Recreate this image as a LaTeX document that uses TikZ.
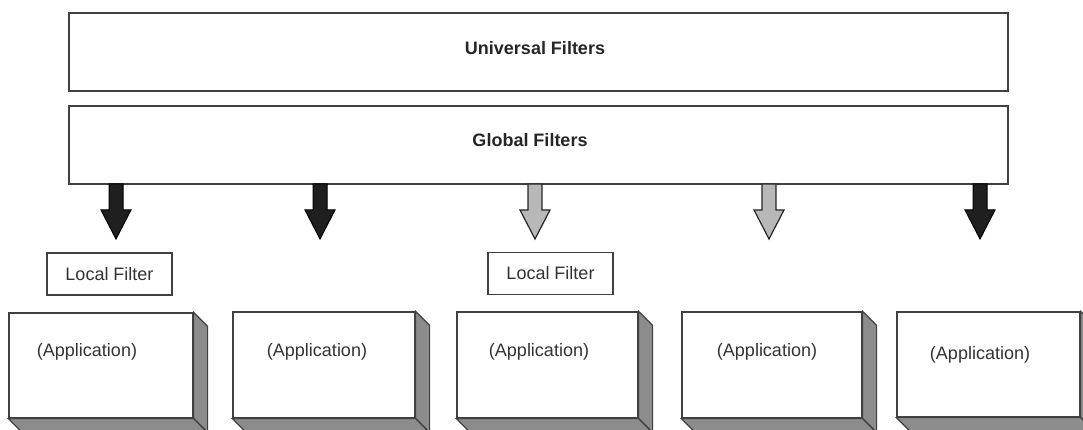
\documentclass[tikz,border=0pt]{standalone}
\usepackage{fontspec}
\setmainfont{Liberation Sans}
\begin{document}
\begin{tikzpicture}[x=1pt,y=-1pt,
  outl/.style={draw=black!75,line width=1.2pt},
  bar/.style={outl,fill=white,inner sep=0pt,font=\fontsize{18}{20}\selectfont\bfseries},
  lfbox/.style={outl,fill=white,inner sep=0pt,minimum width=125pt,minimum height=42pt,font=\fontsize{18}{20}\selectfont\color{black!80}},
  appbox/.style={outl,fill=white,inner sep=0pt,minimum height=105pt},
  side/.style={outl,fill=black!45},
  apptext/.style={font=\fontsize{18}{20}\selectfont\color{black!80},inner sep=0pt},
  darrow/.style={draw=black,line width=1pt,fill=black!88},
  larrow/.style={draw=black!85,line width=1.2pt,fill=black!28}
]
\path[use as bounding box,clip] (0,0) rectangle (1083,430);

% top bars
\node[bar,minimum width=939pt,minimum height=78pt] (univ) at (538.5,52) {};
\node at (535,48) {\fontsize{18}{20}\selectfont\bfseries\color{black!85}Universal Filters};
\node[bar,minimum width=939pt,minimum height=78pt] (glob) at (538.5,145) {};
\node at (530,140) {\fontsize{18}{20}\selectfont\bfseries\color{black!85}Global Filters};

% block arrows
\foreach \n/\cx/\st in {a1/116/darrow,a2/320/darrow,a3/535/larrow,a4/769/larrow,a5/980/darrow}{
  \coordinate (\n) at (\cx,184);
  \draw[\st] (\n) ++(-7,0) -- ++(0,26) -- ++(-8,0) -- ++(15,29) -- ++(15,-29) -- ++(-8,0) -- ++(0,-26) -- cycle;
}

% local filters
\node[lfbox] (lf1) at (109.5,274) {Local Filter};
\node[lfbox] (lf2) at (550.5,273.5) {Local Filter};

% application boxes
\foreach \n/\l/\r/\t/\b/\tx/\ty in {p1/9/193/313/418/87/352,p2/233/415/312/418/317/352,p3/457/638/312/418/539/352,p4/682/862/312/418/767/352,p5/897/1080/312/417/980/355}{
  \node[appbox,minimum width={\r-\l},minimum height={\b-\t}] (\n) at ({(\l+\r)/2},{(\t+\b)/2}) {};
  \draw[side] (\n.north east) -- ++(14,14) -- ([shift={(14,14)}]\n.south east) -- (\n.south east) -- cycle;
  \draw[side] (\n.south west) -- (\n.south east) -- ++(14,14) -- ([shift={(14,14)}]\n.south west) -- cycle;
  \node[apptext] (\n t) at (\tx,\ty) {(Application)};
}
\end{tikzpicture}
\end{document}
